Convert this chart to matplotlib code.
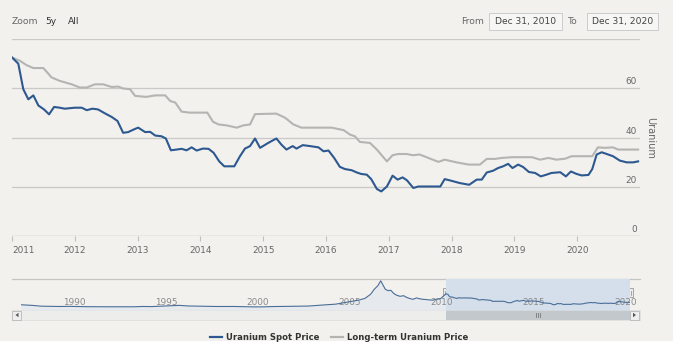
import matplotlib
matplotlib.use("Agg")
import matplotlib.pyplot as plt
from matplotlib.patches import Rectangle
from matplotlib.transforms import blended_transform_factory, offset_copy

# ---------------- data ----------------
spot_years = [2011.00, 2011.10, 2011.18, 2011.26, 2011.34, 2011.42, 2011.51, 2011.59, 2011.67, 2011.76,
              2011.84, 2012.00, 2012.11, 2012.19, 2012.28, 2012.37, 2012.48, 2012.59, 2012.68, 2012.77,
              2012.85, 2012.96, 2013.01, 2013.12, 2013.20, 2013.28, 2013.38, 2013.45, 2013.53, 2013.62,
              2013.70, 2013.78, 2013.86, 2013.94, 2014.04, 2014.13, 2014.21, 2014.30, 2014.38, 2014.54,
              2014.63, 2014.71, 2014.79, 2014.87, 2014.95, 2015.08, 2015.21, 2015.29, 2015.37, 2015.47,
              2015.53, 2015.63, 2015.75, 2015.88, 2015.96, 2016.04, 2016.13, 2016.22, 2016.30, 2016.41,
              2016.49, 2016.56, 2016.65, 2016.72, 2016.81, 2016.88, 2016.97, 2017.06, 2017.14, 2017.22,
              2017.29, 2017.39, 2017.47, 2017.60, 2017.74, 2017.82, 2017.89, 2018.00, 2018.13, 2018.28,
              2018.40, 2018.48, 2018.56, 2018.66, 2018.74, 2018.82, 2018.90, 2018.97, 2019.06, 2019.14,
              2019.23, 2019.33, 2019.42, 2019.51, 2019.59, 2019.73, 2019.82, 2019.90, 2019.99, 2020.07,
              2020.18, 2020.24, 2020.31, 2020.39, 2020.47, 2020.57, 2020.68, 2020.79, 2020.89, 2020.97]
spot_price = [72.5, 70.0, 59.6, 55.5, 57.1, 53.0, 51.4, 49.4, 52.4, 52.1,
              51.7, 52.1, 52.1, 51.1, 51.7, 51.4, 49.8, 48.3, 46.7, 41.9,
              42.2, 43.5, 44.0, 42.2, 42.3, 40.8, 40.5, 39.6, 34.8, 35.1,
              35.4, 34.8, 36.0, 34.7, 35.5, 35.4, 33.8, 30.3, 28.3, 28.3,
              32.4, 35.5, 36.5, 39.6, 35.8, 37.8, 39.6, 37.1, 35.1, 36.5,
              35.5, 36.9, 36.5, 36.0, 34.4, 34.7, 31.7, 28.1, 27.2, 26.7,
              25.8, 25.2, 24.9, 23.1, 19.1, 18.1, 20.1, 24.5, 22.9, 23.8,
              22.6, 19.5, 20.1, 20.1, 20.1, 20.1, 23.1, 22.4, 21.5, 20.8,
              22.9, 22.9, 25.8, 26.5, 27.6, 28.3, 29.3, 27.6, 29.0, 28.0,
              26.0, 25.6, 24.2, 24.9, 25.6, 25.9, 24.2, 26.2, 25.2, 24.6,
              24.8, 27.2, 33.1, 34.0, 33.3, 32.4, 30.6, 29.9, 29.9, 30.3]

lt_years = [2011.00, 2011.13, 2011.23, 2011.34, 2011.50, 2011.63, 2011.76, 2011.95, 2012.08, 2012.19,
            2012.32, 2012.45, 2012.59, 2012.69, 2012.77, 2012.88, 2012.96, 2013.14, 2013.28, 2013.44,
            2013.52, 2013.60, 2013.70, 2013.83, 2014.11, 2014.20, 2014.29, 2014.42, 2014.58, 2014.68,
            2014.79, 2014.87, 2015.21, 2015.35, 2015.48, 2015.61, 2016.09, 2016.28, 2016.38, 2016.46,
            2016.54, 2016.70, 2016.81, 2016.97, 2017.06, 2017.15, 2017.28, 2017.39, 2017.49, 2017.63,
            2017.79, 2017.89, 2018.08, 2018.27, 2018.45, 2018.56, 2018.69, 2018.80, 2018.96, 2019.28,
            2019.41, 2019.54, 2019.67, 2019.81, 2019.91, 2020.24, 2020.33, 2020.44, 2020.57, 2020.65,
            2020.97]
lt_price = [72.5, 71.1, 69.4, 68.2, 68.2, 64.4, 63.0, 61.6, 60.3, 60.3,
            61.6, 61.6, 60.5, 60.7, 59.9, 59.6, 56.9, 56.5, 57.1, 57.1,
            54.8, 54.2, 50.5, 50.1, 50.1, 46.4, 45.3, 44.9, 44.0, 44.9,
            45.3, 49.5, 49.7, 48.0, 45.3, 44.0, 44.0, 43.0, 41.2, 40.5,
            38.2, 37.8, 35.1, 30.3, 32.8, 33.3, 33.3, 32.8, 33.1, 31.7,
            30.1, 31.0, 29.9, 29.0, 29.0, 31.3, 31.3, 31.7, 32.0, 32.0,
            31.0, 31.7, 31.0, 31.4, 32.4, 32.4, 36.0, 35.8, 36.0, 35.1,
            35.1]

# navigator: older spot price history (before the selected range)
nav_hist_years = [1987.9, 1988.5, 1989.0, 1989.5, 1990.0, 1990.5, 1991.0, 1991.5, 1992.0, 1992.5,
                  1993.0, 1993.5, 1994.0, 1994.5, 1995.0, 1995.5, 1996.0, 1996.5, 1997.0, 1997.5,
                  1998.0, 1998.5, 1999.0, 1999.5, 2000.0, 2000.5, 2001.0, 2001.5, 2002.0, 2002.5,
                  2003.0, 2003.5, 2004.0, 2004.5, 2005.0, 2005.5, 2006.0, 2006.3, 2006.6, 2006.9,
                  2007.1, 2007.3, 2007.45, 2007.55, 2007.7, 2007.85, 2008.0, 2008.15, 2008.3, 2008.5,
                  2008.7, 2008.85, 2009.0, 2009.2, 2009.4, 2009.55, 2009.75, 2009.9, 2010.1, 2010.3,
                  2010.5, 2010.7, 2010.85]
nav_hist_price = [18, 15, 11, 10, 9.5, 10, 9, 8.5, 8, 8,
                  8, 8, 8, 9.5, 9, 11, 13, 15, 12, 11,
                  10, 9.5, 9.5, 9.5, 8.5, 7.5, 7.5, 9, 9.5, 10,
                  10.5, 11.5, 15, 18, 21, 29, 37, 42, 50, 70,
                  95, 113, 137, 120, 95, 88, 90, 75, 66, 60,
                  63, 55, 50, 45, 52, 48, 45, 44, 42, 41,
                  46, 48, 60]

year_ticks = list(range(2011, 2021))
y_grid = [0, 20, 40, 60, 80]
y_labels = [0, 20, 40, 60]
nav_ticks = [1990, 1995, 2000, 2005, 2010, 2015, 2020]
sel_start, sel_end = 2011.0, 2021.0
range_from = "Dec 31, 2010"
range_to = "Dec 31, 2020"
zoom_buttons = ["5y", "All"]
series_names = ["Uranium Spot Price", "Long-term Uranium Price"]
axis_title = "Uranium"

# ---------------- styling ----------------
W, H = 680, 350
BG = "#f2f1ed"
SPOT_C = "#2d5890"
LT_C = "#b4b4b2"
GRID_C = "#c9c9c7"
TXT = "#666666"
plt.rcParams['font.family'] = ['DejaVu Sans']

fig = plt.figure(figsize=(6.8, 3.5), dpi=100, facecolor="white")


def rect(l, t, w, h):
    return [l / W, 1 - (t + h) / H, w / W, h / H]


ui = fig.add_axes([0, 0, 1, 1], zorder=0)
ui.set_xlim(0, W)
ui.set_ylim(H, 0)
ui.axis('off')
ui.add_patch(Rectangle((0, 0), 673, 341, fc=BG, ec='none'))

# ---------------- main chart ----------------
ax = fig.add_axes(rect(12, 39, 628, 197), zorder=2)
ax.patch.set_alpha(0)
ax.set_xlim(sel_start, sel_end)
ax.set_ylim(0, 80)
for s in ax.spines.values():
    s.set_visible(False)
for v in y_grid[1:]:
    ax.axhline(v, color=GRID_C, lw=0.9, zorder=1)
ax.axhline(0, color="#c0c0be", lw=1.0, zorder=1)
ax.set_yticks([])
ax.set_xticks(year_ticks)
ax.set_xticklabels([str(y) for y in year_ticks])
ax.tick_params(axis='x', direction='out', length=3.5, width=0.8, color="#c0c0be",
               labelsize=6.4, labelcolor=TXT, pad=3.5)
ax.get_xticklabels()[0].set_horizontalalignment('left')

ytrans = offset_copy(blended_transform_factory(ax.transAxes, ax.transData), fig, x=-3, y=2, units='dots')
for v in y_labels:
    ax.text(1.0, v, str(v), transform=ytrans, ha='right', va='bottom', fontsize=6.4, color=TXT)

ax.plot(lt_years, lt_price, color=LT_C, lw=1.5, zorder=3, solid_joinstyle='round')
ax.plot(spot_years, spot_price, color=SPOT_C, lw=1.5, zorder=4, solid_joinstyle='round')

ui.text(650, 138, axis_title, rotation=270, ha='center', va='center', fontsize=7, color=TXT)

# ---------------- navigator ----------------
nav_l, nav_t, nav_w, nav_h = 21, 279, 609, 31
nav = fig.add_axes(rect(nav_l, nav_t, nav_w, nav_h), zorder=1)
nav.patch.set_alpha(0)
nav.axis('off')
nx0, nx1 = nav_hist_years[0], sel_end
nav.set_xlim(nx0, nx1)
nav.set_ylim(-8, 146)
nav_x = nav_hist_years + spot_years
nav_y = nav_hist_price + spot_price
nav.fill_between(nav_x, nav_y, -8, color="#e6eaee", lw=0, zorder=1)
nav.axvspan(sel_start, sel_end, color="#d4dfeb", lw=0, zorder=2)
ntrans = offset_copy(blended_transform_factory(nav.transData, nav.transAxes), fig, x=3, units='dots')
for yr in nav_ticks:
    nav.text(yr, 0.24, str(yr), transform=ntrans, ha='left', va='center', fontsize=6.4,
             color="#8a8a8a", zorder=3)
nav.plot(nav_x, nav_y, color="#4a6d98", lw=0.8, zorder=4)


def nav_px(yr):
    return nav_l + (yr - nx0) / (nx1 - nx0) * nav_w


ui.plot([12, 640], [279, 279], color="#c4c4c2", lw=0.9)
# scrollbar
ui.add_patch(Rectangle((12, 310), 628, 10, fc="#ededeb", ec="#dcdcda", lw=0.5))
sx0, sx1 = nav_px(sel_start), nav_px(sel_end)
ui.add_patch(Rectangle((sx0, 310), sx1 - sx0, 10, fc="#c3c8cd", ec="none"))
gx = (sx0 + sx1) / 2
for dx in (-2, 0, 2):
    ui.plot([gx + dx, gx + dx], [312.5, 317], color="#777777", lw=0.6)
for bx, arrow in ((12, [(18.5, 312.8), (18.5, 317.2), (15.5, 315)]),
                  (630, [(633, 312.8), (633, 317.2), (636, 315)])):
    ui.add_patch(Rectangle((bx, 310.5), 9, 9, fc="#eeeeee", ec="#b8b8b8", lw=0.6))
    ui.add_patch(plt.Polygon(arrow, closed=True, fc="#555555", ec='none'))
# handles
for hx in (sx0, sx1):
    ui.add_patch(Rectangle((hx - 3, 288), 6, 9, fc="#ebebeb", ec="#9a9a9a", lw=0.6, zorder=5))
    for dx in (-1, 1):
        ui.plot([hx + dx, hx + dx], [290.5, 294.5], color="#888888", lw=0.5, zorder=6)

# ---------------- range selector ----------------
ui.text(12, 21.5, "Zoom", fontsize=6.6, color=TXT, va='center', ha='left')
ui.text(45, 21.5, zoom_buttons[0], fontsize=6.6, color="#333333", va='center', ha='left')
ui.text(68, 21.5, zoom_buttons[1], fontsize=6.6, color="#333333", va='center', ha='left')
ui.text(484, 21.5, "From", fontsize=6.6, color=TXT, va='center', ha='right')
ui.add_patch(Rectangle((489, 13), 73, 17, fc="#f6f6f4", ec="#cccccc", lw=0.7))
ui.text(525.5, 21.5, range_from, fontsize=6.6, color="#444444", va='center', ha='center')
ui.text(578, 21.5, "To", fontsize=6.6, color=TXT, va='center', ha='right')
ui.add_patch(Rectangle((587, 13), 71, 17, fc="#f6f6f4", ec="#cccccc", lw=0.7))
ui.text(622.5, 21.5, range_to, fontsize=6.6, color="#444444", va='center', ha='center')

# ---------------- legend ----------------
ui.plot([210, 222], [337, 337], color=SPOT_C, lw=1.6)
ui.text(226, 337, series_names[0], fontsize=6.1, fontweight='bold', color="#333333", va='center', ha='left')
ui.plot([331, 343], [337, 337], color=LT_C, lw=1.6)
ui.text(347, 337, series_names[1], fontsize=6.1, fontweight='bold', color="#333333", va='center', ha='left')

fig.savefig("out.png", dpi=100, facecolor=fig.get_facecolor())
